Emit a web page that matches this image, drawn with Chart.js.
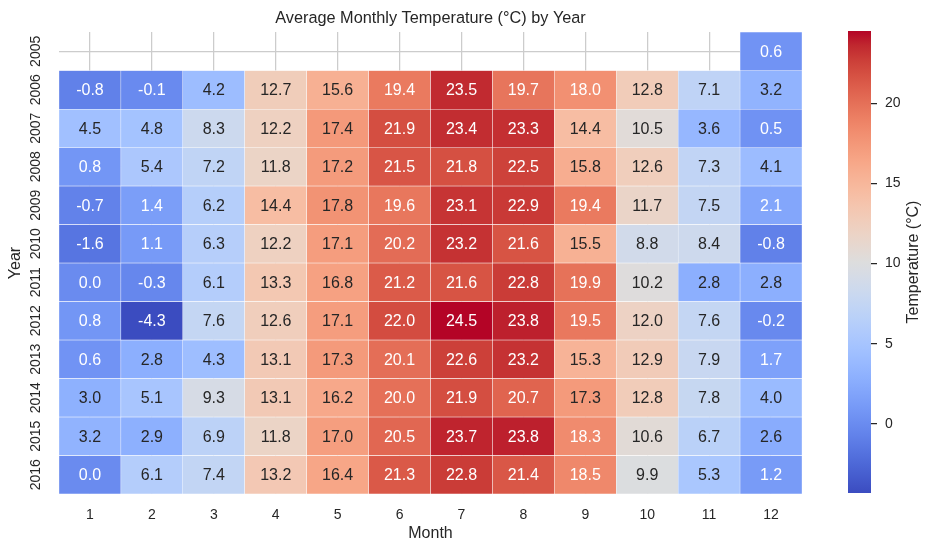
<!DOCTYPE html>
<html>
<head>
<meta charset="utf-8">
<script src="https://cdn.jsdelivr.net/npm/chart.js@4"></script>
<style>
  html, body { margin: 0; padding: 0; background: #fff; }
  #wrap { position: relative; width: 933px; height: 551px; }
  #heat { position: absolute; left: 0; top: 0; }
  #cbar { position: absolute; left: 820px; top: 0; }
</style>
</head>
<body>
<div id="wrap">
  <canvas id="heat" width="933" height="551"></canvas>
  <canvas id="cbar" width="113" height="551"></canvas>
</div>
<script>
const months = ['1', '2', '3', '4', '5', '6', '7', '8', '9', '10', '11', '12'];
const years = ['2005', '2006', '2007', '2008', '2009', '2010', '2011', '2012', '2013', '2014', '2015', '2016'];

const t2005 = [null, null, null, null, null, null, null, null, null, null, null, 0.6];
const t2006 = [-0.8, -0.1, 4.2, 12.7, 15.6, 19.4, 23.5, 19.7, 18.0, 12.8, 7.1, 3.2];
const t2007 = [4.5, 4.8, 8.3, 12.2, 17.4, 21.9, 23.4, 23.3, 14.4, 10.5, 3.6, 0.5];
const t2008 = [0.8, 5.4, 7.2, 11.8, 17.2, 21.5, 21.8, 22.5, 15.8, 12.6, 7.3, 4.1];
const t2009 = [-0.7, 1.4, 6.2, 14.4, 17.8, 19.6, 23.1, 22.9, 19.4, 11.7, 7.5, 2.1];
const t2010 = [-1.6, 1.1, 6.3, 12.2, 17.1, 20.2, 23.2, 21.6, 15.5, 8.8, 8.4, -0.8];
const t2011 = [0.0, -0.3, 6.1, 13.3, 16.8, 21.2, 21.6, 22.8, 19.9, 10.2, 2.8, 2.8];
const t2012 = [0.8, -4.3, 7.6, 12.6, 17.1, 22.0, 24.5, 23.8, 19.5, 12.0, 7.6, -0.2];
const t2013 = [0.6, 2.8, 4.3, 13.1, 17.3, 20.1, 22.6, 23.2, 15.3, 12.9, 7.9, 1.7];
const t2014 = [3.0, 5.1, 9.3, 13.1, 16.2, 20.0, 21.9, 20.7, 17.3, 12.8, 7.8, 4.0];
const t2015 = [3.2, 2.9, 6.9, 11.8, 17.0, 20.5, 23.7, 23.8, 18.3, 10.6, 6.7, 2.6];
const t2016 = [0.0, 6.1, 7.4, 13.2, 16.4, 21.3, 22.8, 21.4, 18.5, 9.9, 5.3, 1.2];
const rows = [t2005, t2006, t2007, t2008, t2009, t2010, t2011, t2012, t2013, t2014, t2015, t2016];

const cbarTicks = [0, 5, 10, 15, 20];

// matplotlib "coolwarm", 33 stops
const coolwarm = [
  [59, 76, 192], [68, 90, 204], [77, 104, 215], [87, 117, 225], [98, 130, 234],
  [108, 142, 241], [119, 154, 247], [130, 165, 251], [141, 176, 254], [152, 185, 255],
  [163, 194, 255], [174, 201, 253], [184, 208, 249], [194, 213, 244], [204, 217, 238],
  [213, 219, 230], [221, 221, 221], [229, 216, 209], [236, 211, 197], [241, 204, 185],
  [245, 196, 173], [247, 187, 160], [247, 177, 148], [247, 166, 135], [244, 154, 123],
  [241, 141, 111], [236, 127, 99], [229, 112, 88], [222, 96, 77], [213, 80, 66],
  [203, 62, 56], [192, 40, 47], [180, 4, 38]
];

const allVals = rows.flat().filter(v => v != null);
const vmin = Math.min(...allVals);
const vmax = Math.max(...allVals);

function cmapRGB(v) {
  const t = Math.max(0, Math.min(1, (v - vmin) / (vmax - vmin)));
  const p = t * (coolwarm.length - 1);
  const i = Math.min(Math.floor(p), coolwarm.length - 2);
  const f = p - i;
  const a = coolwarm[i], b = coolwarm[i + 1];
  return [0, 1, 2].map(k => a[k] + (b[k] - a[k]) * f);
}
function cmap(v) {
  const c = cmapRGB(v);
  return `rgb(${c[0].toFixed(0)}, ${c[1].toFixed(0)}, ${c[2].toFixed(0)})`;
}
// same rule seaborn uses to pick annotation colour
function textColor(v) {
  const lin = cmapRGB(v).map(x => {
    x = x / 255;
    return x <= 0.03928 ? x / 12.92 : Math.pow((x + 0.055) / 1.055, 2.4);
  });
  const lum = 0.2126 * lin[0] + 0.7152 * lin[1] + 0.0722 * lin[2];
  return lum > 0.408 ? '#262626' : '#ffffff';
}

const FONT = '"Liberation Sans", Arial, Helvetica, sans-serif';
const DARK = '#262626';
Chart.defaults.font.family = FONT;
Chart.defaults.color = DARK;

const annotate = {
  id: 'annotate',
  afterDatasetsDraw(chart) {
    const ctx = chart.ctx;
    ctx.save();
    ctx.font = '16px ' + FONT;
    ctx.textAlign = 'center';
    ctx.textBaseline = 'middle';
    chart.data.datasets.forEach((ds, di) => {
      chart.getDatasetMeta(di).data.forEach((bar, i) => {
        const v = rows[di][i];
        if (v == null) return;
        const p = bar.getProps(['x', 'y', 'base'], true);
        ctx.fillStyle = textColor(v);
        ctx.fillText(v.toFixed(1), p.x, (p.y + p.base) / 2 + 1);
      });
    });
    ctx.restore();
  }
};

new Chart(document.getElementById('heat'), {
  type: 'bar',
  data: {
    labels: months,
    datasets: rows.map((r, yi) => ({
      label: years[yi],
      data: r.map(v => v == null ? null : [yi - 0.5, yi + 0.5]),
      backgroundColor: r.map(v => v == null ? 'rgba(0,0,0,0)' : cmap(v)),
      borderColor: '#ffffff',
      borderWidth: 0.5,
      borderSkipped: false,
      grouped: false,
      barPercentage: 1,
      categoryPercentage: 1
    }))
  },
  options: {
    responsive: false,
    animation: false,
    layout: { padding: { left: 0, right: 131, top: 0, bottom: 0 } },
    plugins: {
      legend: { display: false },
      tooltip: { enabled: false },
      title: {
        display: true,
        text: 'Average Monthly Temperature (°C) by Year',
        fullSize: false,
        color: DARK,
        font: { size: 16.3, weight: 'normal' },
        padding: { top: 9, bottom: 3.5 }
      }
    },
    scales: {
      x: {
        grid: { offset: false, color: '#cccccc', lineWidth: 1.25, drawTicks: false },
        border: { display: false },
        ticks: { color: DARK, font: { size: 14 }, padding: 13 },
        title: { display: true, text: 'Month', color: DARK, font: { size: 16 }, padding: { top: 0, bottom: 8 } },
        afterFit(s) { s.height = 57; }
      },
      y: {
        type: 'linear',
        min: -0.5,
        max: 11.5,
        reverse: true,
        afterBuildTicks(s) { s.ticks = years.map((y, i) => ({ value: i })); },
        grid: { color: '#cccccc', lineWidth: 1.25, drawTicks: false },
        border: { display: false },
        ticks: {
          autoSkip: false,
          minRotation: 90,
          maxRotation: 90,
          crossAlign: 'center',
          padding: 7,
          color: DARK,
          font: { size: 14 },
          callback: v => years[v] ?? ''
        },
        title: { display: true, text: 'Year', color: DARK, font: { size: 16 }, padding: { top: 6, bottom: 4 } },
        afterFit(s) { s.width = 59; }
      }
    }
  },
  plugins: [annotate]
});

const cbarLabel = {
  id: 'cbarLabel',
  afterDraw(chart) {
    const ctx = chart.ctx;
    const a = chart.chartArea;
    const s = chart.scales.y;
    ctx.save();
    ctx.font = '16px ' + FONT;
    ctx.fillStyle = DARK;
    ctx.textAlign = 'center';
    ctx.textBaseline = 'middle';
    ctx.translate(s.right - 19, (a.top + a.bottom) / 2);
    ctx.rotate(-Math.PI / 2);
    ctx.fillText('Temperature (°C)', 0, 0);
    ctx.restore();
  }
};

new Chart(document.getElementById('cbar'), {
  type: 'bar',
  data: {
    labels: [''],
    datasets: [{
      data: [[vmin, vmax]],
      backgroundColor(c) {
        const a = c.chart.chartArea;
        if (!a) return null;
        const g = c.chart.ctx.createLinearGradient(0, a.bottom, 0, a.top);
        coolwarm.forEach((rgb, k) => g.addColorStop(k / (coolwarm.length - 1), `rgb(${rgb.join(',')})`));
        return g;
      },
      borderWidth: 0,
      barPercentage: 1,
      categoryPercentage: 1
    }]
  },
  options: {
    responsive: false,
    animation: false,
    layout: { padding: { left: 28, right: 0, top: 31, bottom: 58 } },
    plugins: { legend: { display: false }, tooltip: { enabled: false } },
    scales: {
      x: { display: false },
      y: {
        position: 'right',
        min: vmin,
        max: vmax,
        afterBuildTicks(s) { s.ticks = cbarTicks.map(v => ({ value: v })); },
        grid: { drawOnChartArea: false, drawTicks: true, tickLength: 6, color: DARK, lineWidth: 1.25 },
        border: { display: false },
        ticks: { padding: 8, color: DARK, font: { size: 14 } },
        afterFit(s) { s.width = 62; }
      }
    }
  },
  plugins: [cbarLabel]
});
</script>
</body>
</html>
